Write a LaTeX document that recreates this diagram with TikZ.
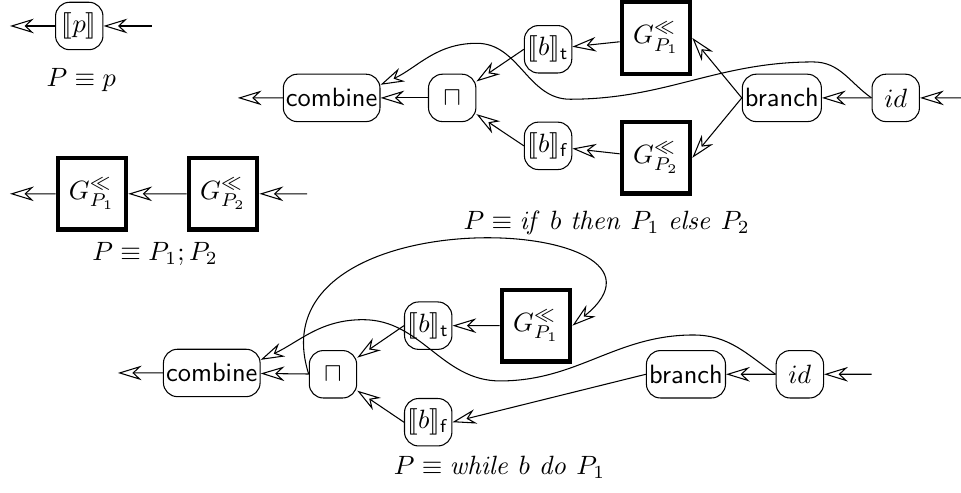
\documentclass[tikz,border=0pt]{standalone}
\usepackage{stmaryrd}
\usetikzlibrary{arrows.meta}
\usetikzlibrary{positioning}

\begin{document}
\begin{tikzpicture}[
    scale=0.885,
    blk/.style={draw, rounded corners=5.3pt, inner sep=1pt, minimum size=0.63cm},
    gbox/.style={draw, line width=1.6pt, minimum width=0.91cm, minimum height=0.95cm},
    flow/.style={-{Stealth[open, length=9pt, width=5.5pt]}}
  ]
  \useasboundingbox (0,0) rectangle (14.43,-7.39);

  % ---------- Atomic (P = p) ----------
  \node[blk] at (1.19,-0.39) (AT1) {$\llbracket p \rrbracket$};
  \coordinate (In1) at (2.28,-0.39);
  \coordinate (Out1) at (0.15,-0.39);
  \draw[flow] (In1) -- (AT1);
  \draw[flow] (AT1) -- (Out1);
  \node at (1.22,-1.20) (L1) {$P \equiv p$};

  % ---------- Sequence (P = P1;P2) ----------
  \node[gbox] at (1.38,-2.91) (GA2) {$G^{\ll}_{P_1}$};
  \node[gbox] at (3.35,-2.91) (GB2) {$G^{\ll}_{P_2}$};
  \coordinate (In2) at (4.61,-2.91);
  \coordinate (Out2) at (0.15,-2.91);
  \draw[flow] (In2) -- (GB2);
  \draw[flow] (GB2) -- (GA2);
  \draw[flow] (GA2) -- (Out2);
  \node at (2.33,-3.81) (L2) {$P \equiv P_1; P_2$};

  % ---------- If then else ----------

  % Nodes
  \node[blk] at (4.98,-1.47) (CB3) {\textsf{combine}};
  \node[blk] at (6.79,-1.47) (MT3) {$\sqcap$};
  \node[blk] at (8.23,-0.74) (BT3) {$\llbracket b \rrbracket_{\mathsf{t}}$};
  \node[blk] at (8.23,-2.19) (BF3) {$\llbracket b \rrbracket_{\mathsf{f}}$};
  \node[gbox] at (9.85,-0.57) (GA3) {$G^{\ll}_{P_1}$};
  \node[gbox] at (9.85,-2.37) (GB3) {$G^{\ll}_{P_2}$};
  \node[blk] at (11.74,-1.47) (BR3) {\textsf{branch}};
  \node[blk] at (13.45,-1.47) (ID3) {$id$};
  \coordinate (In3) at (14.43,-1.47);
  \coordinate (Out3) at (3.57,-1.47);

  % Edges
  \draw[flow] (In3) -- (ID3);
  \draw[flow] (ID3) -- (BR3);
  \draw[flow] (BR3.west) -- (GA3.east);
  \draw[flow] (BR3.west) -- (GB3.east);
  \draw[flow] (GA3) -- (BT3);
  \draw[flow] (GB3) -- (BF3);
  \draw[flow] (BT3.west) -- (MT3);
  \draw[flow] (BF3.west) -- (MT3);
  \draw[flow] (MT3) -- (CB3);
  \draw[flow] (CB3) -- (Out3);
  \draw[flow] (ID3.west) to[out=145,in=0] (12.21,-0.93) to[out=180,in=0] (8.56,-1.49)
    to[out=180,in=0] (7.16,-0.65) to[out=180,in=25] (CB3.15);

  \node at (9.11,-3.35) (L3) {$P \equiv \mathit{if}\ b\ \mathit{then}\ P_1\ \mathit{else}\ P_2$};

  % ---------- While do ----------

  % Nodes
  \node[blk] at (3.18,-5.60) (CB4) {\textsf{combine}};
  \node[blk] at (5.00,-5.62) (MT4) {$\sqcap$};
  \node[blk] at (6.43,-4.89) (BT4) {$\llbracket b \rrbracket_{\mathsf{t}}$};
  \node[blk] at (6.43,-6.34) (BF4) {$\llbracket b \rrbracket_{\mathsf{f}}$};
  \node[gbox] at (8.05,-4.89) (GA4) {$G^{\ll}_{P_1}$};
  \node[blk] at (10.30,-5.62) (BR4) {\textsf{branch}};
  \node[blk] at (12.01,-5.62) (ID4) {$id$};
  \coordinate (In4) at (13.09,-5.62);
  \coordinate (Out4) at (1.77,-5.60);

  % Edges
  \draw[flow] (In4) -- (ID4);
  \draw[flow] (ID4) -- (BR4);
  \draw[flow] (BR4.west) -- (BF4.east);
  \draw[flow] (GA4) -- (BT4);
  \draw[flow] (BT4.west) -- (MT4);
  \draw[flow] (BF4.west) -- (MT4);
  \draw[flow] (MT4) -- (CB4);
  \draw[flow] (CB4) -- (Out4);
  \draw[flow] (MT4.west) .. controls (3.75,-2.85) and (10.66,-3.23) .. (GA4.east);
  \draw[flow] (ID4.west) to[out=145,in=0] (10.41,-5.03) to[out=180,in=0] (7.51,-5.72)
    to[out=180,in=0] (5.45,-4.80) to[out=180,in=25] (CB4.15);

  \node at (7.50,-7.01) (L4) {$P \equiv \mathit{while}\ b\ \mathit{do}\ P_1$};
\end{tikzpicture}
\end{document}
